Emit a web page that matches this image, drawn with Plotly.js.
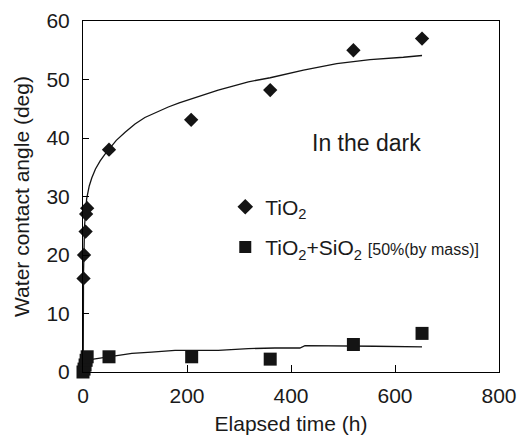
<!DOCTYPE html>
<html>
<head>
<meta charset="utf-8">
<script src="https://cdn.plot.ly/plotly-3.0.1.min.js"></script>
<style>html,body{margin:0;padding:0;background:#fff;}#chart{width:519px;height:436px;}</style>
</head>
<body>
<div id="chart"></div>
<script>
// TiO2 measured points (time h, contact angle deg)
const tio2Time  = [1, 2, 5, 6, 8, 50, 208, 360, 520, 652];
const tio2Angle = [16, 20, 24, 27, 28, 38, 43.1, 48.2, 55, 57];
// TiO2 fitted curve
const tio2FitTime  = [0.3, 1, 3, 7, 12, 17, 24, 33, 42, 49, 64, 81, 100, 119, 140, 164, 185, 209, 235, 260, 290, 318, 360, 424, 488, 552, 616, 652];
const tio2FitAngle = [0, 17, 25, 29.6, 31.8, 33.2, 34.7, 36.1, 37.2, 38.0, 39.6, 41.0, 42.4, 43.5, 44.4, 45.3, 46.0, 46.7, 47.5, 48.2, 48.9, 49.6, 50.3, 51.6, 52.7, 53.4, 53.8, 54.1];
// TiO2+SiO2 measured points
const mixTime  = [0, 2, 4, 6, 8, 50, 209, 360, 520, 652];
const mixAngle = [0, 0.5, 1.2, 2, 2.6, 2.6, 2.6, 2.2, 4.7, 6.6];
// TiO2+SiO2 fitted curve
const mixFitTime  = [0.3, 5, 20, 68, 94, 132, 177, 260, 318, 369, 417, 427, 488, 560, 652];
const mixFitAngle = [0, 2, 2.2, 2.9, 3.2, 3.4, 3.7, 3.7, 4.0, 4.1, 4.1, 4.5, 4.5, 4.4, 4.3];
// axis ticks
const xTicks = [0, 200, 400, 600, 800];
const yTicks = [0, 10, 20, 30, 40, 50, 60];

const FONT = 'Liberation Sans, Arial, Helvetica, sans-serif';
const INK = '#141414';
const TXT = '#1a1a1a';

const traces = [
  {x: tio2FitTime, y: tio2FitAngle, mode: 'lines', line: {color: INK, width: 1.3}, showlegend: false, hoverinfo: 'skip', cliponaxis: false},
  {x: mixFitTime, y: mixFitAngle, mode: 'lines', line: {color: INK, width: 1.3}, showlegend: false, hoverinfo: 'skip', cliponaxis: false},
  {x: tio2Time, y: tio2Angle, mode: 'markers', name: 'TiO<sub>2</sub>',
   marker: {symbol: 'diamond', size: 11, color: INK}, cliponaxis: false, legend: 'legend'},
  {x: mixTime, y: mixAngle, mode: 'markers',
   name: 'TiO<sub>2</sub>+SiO<sub>2</sub> <span style="font-size:16px">[50%(by mass)]</span>',
   marker: {symbol: 'square', size: 13, color: INK}, cliponaxis: false, legend: 'legend2'}
];

const axisCommon = {
  showline: true, linecolor: '#000', linewidth: 1, mirror: true,
  ticks: 'inside', tickcolor: '#000', tickwidth: 1,
  showgrid: false, zeroline: false,
  tickfont: {family: FONT, size: 21, color: TXT}
};

const layout = {
  width: 519, height: 436,
  margin: {l: 83, r: 20, t: 21, b: 64},
  paper_bgcolor: '#fff', plot_bgcolor: '#fff',
  font: {family: FONT, size: 21, color: TXT},
  xaxis: Object.assign({}, axisCommon, {
    range: [0, 800], tickvals: xTicks, ticklen: 7, ticklabelstandoff: 5,
    title: {text: 'Elapsed time (h)', font: {family: FONT, size: 21, color: TXT}, standoff: 10}
  }),
  yaxis: Object.assign({}, axisCommon, {
    range: [0, 60], tickvals: yTicks, ticklen: 6, ticklabelstandoff: 8,
    title: {text: 'Water contact angle (deg)', font: {family: FONT, size: 21, color: TXT}, standoff: 11}
  }),
  legend: {x: 0.342, y: 0.47, xanchor: 'left', yanchor: 'middle', bgcolor: 'rgba(0,0,0,0)',
           font: {family: FONT, size: 21, color: TXT}, itemsizing: 'constant'},
  legend2: {x: 0.342, y: 0.355, xanchor: 'left', yanchor: 'middle', bgcolor: 'rgba(0,0,0,0)',
           font: {family: FONT, size: 21, color: TXT}, itemsizing: 'constant'},
  annotations: [
    {x: 546, y: 39.1, xref: 'x', yref: 'y', text: 'In the dark', showarrow: false,
     font: {family: FONT, size: 23, color: TXT}}
  ],
  showlegend: true
};

Plotly.newPlot('chart', traces, layout, {displayModeBar: false, staticPlot: true});
</script>
</body>
</html>
